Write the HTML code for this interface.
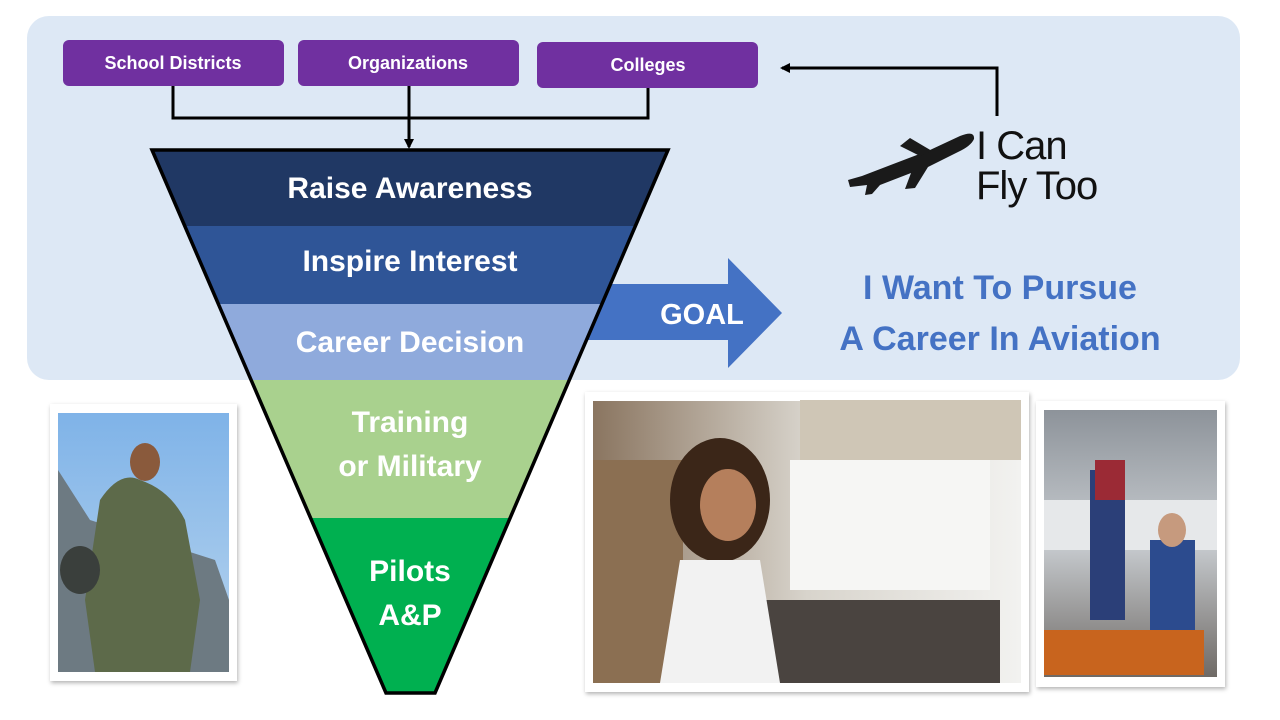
<!DOCTYPE html>
<html><head><meta charset="utf-8"><style>
html,body{margin:0;padding:0;background:#fff;}
svg{display:block;font-family:"Liberation Sans",sans-serif;font-weight:bold;}
</style></head><body>
<svg width="1280" height="720" viewBox="0 0 1280 720" xmlns="http://www.w3.org/2000/svg">
<defs>
<marker id="ah" markerWidth="10" markerHeight="10" refX="8" refY="5" orient="auto" markerUnits="userSpaceOnUse"><path d="M0,0 L10,5 L0,10 z" fill="#000"/></marker>
<filter id="sh" x="-5%" y="-5%" width="115%" height="115%"><feDropShadow dx="1" dy="2" stdDeviation="2" flood-color="#000" flood-opacity="0.3"/></filter>
<linearGradient id="sky" x1="0" y1="0" x2="0" y2="1"><stop offset="0" stop-color="#7fb3e8"/><stop offset="1" stop-color="#b9d5ee"/></linearGradient>
<linearGradient id="cock" x1="0" y1="0" x2="1" y2="0"><stop offset="0" stop-color="#8a7560"/><stop offset="0.5" stop-color="#d8d4cc"/><stop offset="1" stop-color="#f2f2f0"/></linearGradient>
<linearGradient id="hang" x1="0" y1="0" x2="0" y2="1"><stop offset="0" stop-color="#8d939a"/><stop offset="0.5" stop-color="#c8ccd0"/><stop offset="1" stop-color="#6f6a66"/></linearGradient>
</defs>
<rect x="27" y="16" width="1213" height="364" rx="22" fill="#dde8f5"/>
<rect x="63" y="40" width="221" height="46" rx="6" fill="#7030a0"/>
<rect x="298" y="40" width="221" height="46" rx="6" fill="#7030a0"/>
<rect x="537" y="42" width="221" height="46" rx="6" fill="#7030a0"/>
<text x="173" y="69" font-size="18" fill="#fff" text-anchor="middle">School Districts</text>
<text x="408" y="69" font-size="18" fill="#fff" text-anchor="middle">Organizations</text>
<text x="648" y="71" font-size="18" fill="#fff" text-anchor="middle">Colleges</text>
<polyline points="173,86 173,118 648,118 648,88" fill="none" stroke="#000" stroke-width="3"/>
<line x1="409" y1="86" x2="409" y2="147" stroke="#000" stroke-width="3" marker-end="url(#ah)"/>
<polyline points="997,116 997,68 782,68" fill="none" stroke="#000" stroke-width="3" marker-end="url(#ah)"/>
<!-- GOAL arrow (behind funnel) -->
<polygon points="560,284 728,284 728,258 782,313 728,368 728,340 560,340" fill="#4472c4"/>
<clipPath id="fc"><polygon points="152,150 668,150 435,693 386,693"/></clipPath>
<g clip-path="url(#fc)">
<rect x="100" y="150" width="600" height="76" fill="#203864"/>
<rect x="100" y="226" width="600" height="78" fill="#2f5597"/>
<rect x="100" y="304" width="600" height="76" fill="#8faadc"/>
<rect x="100" y="380" width="600" height="138" fill="#a9d18e"/>
<rect x="100" y="518" width="600" height="180" fill="#00b050"/>
</g>
<polygon points="152,150 668,150 435,693 386,693" fill="none" stroke="#000" stroke-width="3.5"/>
<text x="410" y="198" font-size="30" fill="#fff" text-anchor="middle">Raise Awareness</text>
<text x="410" y="271" font-size="30" fill="#fff" text-anchor="middle">Inspire Interest</text>
<text x="410" y="352" font-size="30" fill="#fff" text-anchor="middle">Career Decision</text>
<text x="410" y="432" font-size="30" fill="#fff" text-anchor="middle">Training</text>
<text x="410" y="476" font-size="30" fill="#fff" text-anchor="middle">or Military</text>
<text x="410" y="581" font-size="30" fill="#fff" text-anchor="middle">Pilots</text>
<text x="410" y="625" font-size="30" fill="#fff" text-anchor="middle">A&amp;P</text>
<text x="702" y="324" font-size="29" fill="#fff" text-anchor="middle">GOAL</text>
<text x="1000" y="299" font-size="34" fill="#4472c4" text-anchor="middle">I Want To Pursue</text>
<text x="1000" y="350" font-size="34" fill="#4472c4" text-anchor="middle">A Career In Aviation</text>
<!-- plane logo -->
<g fill="#1a1a1a">
<path d="M848,180 L862,176 L930,150 L960,136 Q975,130 974,139 Q971,146 958,152 L928,167 L915,188 L905,189 L911,173 L880,185 L872,194 L865,195 L867,185 L850,187 Z"/>
<path d="M900,146 L920,156 L932,151 L910,138 Z"/>
</g>
<text x="976" y="159" font-size="40" fill="#111" font-weight="normal" letter-spacing="-1">I Can</text>
<text x="976" y="199" font-size="40" fill="#111" font-weight="normal" letter-spacing="-1">Fly Too</text>
<!-- photo 1 -->
<rect x="50" y="404" width="187" height="277" fill="#fff" filter="url(#sh)"/>
<rect x="58" y="413" width="171" height="259" fill="url(#sky)"/>
<path d="M58,470 L90,520 L215,560 L229,600 L229,672 L58,672 Z" fill="#6d7a82"/>
<path d="M100,500 Q120,470 140,480 Q170,490 185,520 L200,600 L190,672 L95,672 L85,600 Z" fill="#5d6a4a"/>
<ellipse cx="145" cy="462" rx="15" ry="19" fill="#8a5a3c"/>
<ellipse cx="80" cy="570" rx="20" ry="24" fill="#3a3f3c"/>
<!-- photo 2 -->
<rect x="585" y="392" width="444" height="300" fill="#fff" filter="url(#sh)"/>
<rect x="593" y="401" width="428" height="282" fill="url(#cock)"/>
<rect x="790" y="460" width="200" height="130" fill="#f6f6f4"/>
<rect x="800" y="400" width="221" height="60" fill="#cfc6b6"/>
<rect x="760" y="600" width="240" height="83" fill="#4a4440"/>
<rect x="593" y="460" width="90" height="223" fill="#8b6f52"/>
<ellipse cx="720" cy="500" rx="50" ry="62" fill="#3b2618"/>
<ellipse cx="728" cy="505" rx="28" ry="36" fill="#b57f5c"/>
<path d="M680,560 L760,560 L780,683 L660,683 Z" fill="#f2f2f2"/>
<!-- photo 3 -->
<rect x="1036" y="401" width="189" height="286" fill="#fff" filter="url(#sh)"/>
<rect x="1044" y="410" width="173" height="267" fill="url(#hang)"/>
<rect x="1044" y="500" width="173" height="50" fill="#e6e8ea"/>
<rect x="1090" y="470" width="35" height="150" fill="#2b3f78"/>
<rect x="1095" y="460" width="30" height="40" fill="#9b2a35"/>
<rect x="1150" y="540" width="45" height="120" fill="#2c4b8e"/>
<ellipse cx="1172" cy="530" rx="14" ry="17" fill="#c69a7e"/>
<rect x="1044" y="630" width="160" height="45" fill="#c8641e"/>
</svg>
</body></html>
